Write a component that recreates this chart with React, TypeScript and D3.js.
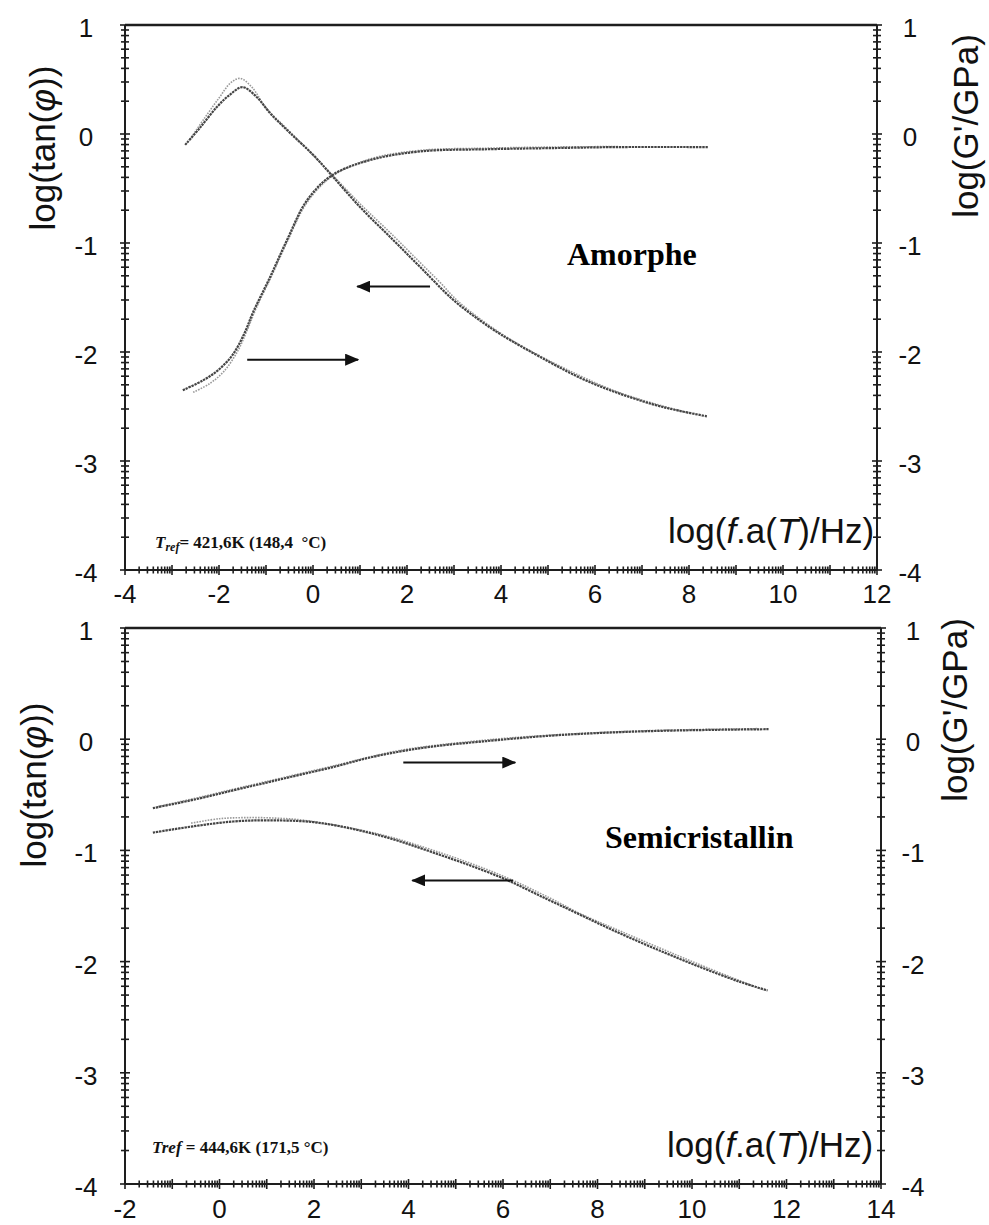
import React from 'react';
import * as d3 from 'd3';

// ---------- tick labels ----------
const yTickLabels = [1, 0, -1, -2, -3, -4];
const topXTickLabels = [-4, -2, 0, 2, 4, 6, 8, 10, 12];
const botXTickLabels = [-2, 0, 2, 4, 6, 8, 10, 12, 14];

// ---------- Amorphe (top panel) ----------
const amTanX_A = [-2.72, -2.40, -2.04, -1.77, -1.50, -1.20, -0.91, -0.49, 0.0, 0.40, 1.0, 1.70, 2.28, 2.98, 3.55, 4.00, 4.98, 5.70, 6.38, 7.23, 7.80, 8.38];
const amTanY_A = [-0.10, 0.06, 0.25, 0.36, 0.43, 0.34, 0.19, 0.01, -0.19, -0.38, -0.67, -0.97, -1.22, -1.52, -1.71, -1.84, -2.08, -2.24, -2.36, -2.48, -2.54, -2.59];
const amTanX_B = [-2.62, -2.30, -2.00, -1.75, -1.55, -1.30, -1.00, -0.49, 0.40, 1.0, 1.70, 2.28, 2.70, 3.10, 4.00, 4.98, 6.38, 7.23, 8.00];
const amTanY_B = [-0.05, 0.15, 0.33, 0.47, 0.51, 0.43, 0.24, 0.02, -0.37, -0.64, -0.93, -1.18, -1.36, -1.54, -1.83, -2.07, -2.35, -2.47, -2.56];

const amGX_A = [-2.77, -2.34, -2.00, -1.70, -1.45, -1.28, -0.91, -0.55, -0.13, 0.40, 1.21, 2.28, 3.70, 5.00, 6.50, 8.40];
const amGY_A = [-2.35, -2.26, -2.16, -2.02, -1.82, -1.64, -1.31, -0.97, -0.61, -0.38, -0.24, -0.16, -0.14, -0.13, -0.12, -0.12];
const amGX_B = [-2.55, -2.20, -1.90, -1.60, -1.40, -1.20, -0.91, -0.55, -0.13, 0.40, 1.21, 2.28, 3.70, 5.00, 6.50];
const amGY_B = [-2.37, -2.29, -2.18, -1.99, -1.80, -1.59, -1.33, -0.99, -0.63, -0.39, -0.23, -0.15, -0.13, -0.12, -0.115];

// ---------- Semicristallin (bottom panel) ----------
const scGX_A = [-1.41, -0.50, 0.29, 1.00, 1.50, 2.41, 3.13, 3.83, 4.53, 5.58, 6.94, 8.00, 9.06, 10.30, 11.62];
const scGY_A = [-0.62, -0.54, -0.46, -0.39, -0.34, -0.25, -0.17, -0.11, -0.065, -0.02, 0.03, 0.055, 0.072, 0.083, 0.09];
const scGX_B = [-1.30, -0.50, 0.29, 1.00, 2.41, 3.83, 5.58, 6.94, 9.06, 11.40];
const scGY_B = [-0.605, -0.53, -0.45, -0.38, -0.24, -0.10, -0.01, 0.035, 0.077, 0.095];

const scTanX_A = [-1.41, -0.50, 0.29, 1.00, 2.07, 3.34, 4.53, 5.94, 6.94, 7.64, 8.34, 9.20, 10.12, 11.00, 11.60];
const scTanY_A = [-0.84, -0.78, -0.74, -0.73, -0.75, -0.86, -1.02, -1.24, -1.44, -1.58, -1.72, -1.88, -2.04, -2.18, -2.26];
const scTanX_B = [-0.60, 0.00, 0.60, 1.20, 1.80, 3.34, 4.53, 5.94, 7.00, 7.64, 8.34, 10.12, 11.30];
const scTanY_B = [-0.755, -0.715, -0.705, -0.71, -0.73, -0.85, -1.00, -1.22, -1.43, -1.57, -1.70, -2.02, -2.22];

// ---------- arrows (data coords: x1 -> x2 at y) ----------
const amArrowsX1 = [2.49, -1.40];
const amArrowsX2 = [0.94, 0.96];
const amArrowsY = [-1.40, -2.07];
const scArrowsX1 = [3.89, 6.21];
const scArrowsX2 = [6.26, 4.08];
const scArrowsY = [-0.21, -1.27];

const SANS = "'Liberation Sans', Arial, Helvetica, sans-serif";
const SERIF = "'Liberation Serif', 'Times New Roman', Times, serif";
const INK = '#1e1e1e';

function zip(xs: number[], ys: number[]) {
  return xs.map((x, i) => [x, ys[i]] as [number, number]);
}

type PanelProps = {
  left: number; right: number; top: number; bottom: number;
  xDomain: [number, number];
  xTickLabels: number[];
  xLabelBaseline: number;
  rightLabelX: number;
  traces: { pts: [number, number][]; kind: 'A' | 'B' }[];
  arrows: { x1: number; x2: number; y: number }[];
  idPrefix: string;
};

function Panel(p: PanelProps) {
  const x = d3.scaleLinear().domain(p.xDomain).range([p.left, p.right]);
  const y = d3.scaleLinear().domain([-4, 1]).range([p.bottom, p.top]);
  const line = d3.line<[number, number]>()
    .x(d => x(d[0]))
    .y(d => y(d[1]))
    .curve(d3.curveCatmullRom.alpha(0.5));

  // log-style minor ticks: n + log10(k)
  const yTickVals: { v: number; major: boolean }[] = [];
  for (let n = -4; n < 1; n++) {
    for (let k = 1; k <= 9; k++) yTickVals.push({ v: n + Math.log10(k), major: k === 1 });
  }
  yTickVals.push({ v: 1, major: true });
  const xTickVals: { v: number; major: boolean }[] = [];
  for (let n = p.xDomain[0]; n < p.xDomain[1]; n++) {
    for (let k = 1; k <= 9; k++) xTickVals.push({ v: n + Math.log10(k), major: k === 1 });
  }
  xTickVals.push({ v: p.xDomain[1], major: true });

  return (
    <g>
      {/* curves */}
      {p.traces.map((t, i) => (
        <path key={i} d={line(t.pts) || ''} fill="none"
          stroke={t.kind === 'A' ? '#454545' : '#9a9a9a'}
          strokeWidth={t.kind === 'A' ? 2.2 : 1.6}
          strokeDasharray={t.kind === 'A' ? '2.4,0.8' : '1.6,1.2'} />
      ))}
      {/* arrows */}
      {p.arrows.map((a, i) => (
        <line key={i} x1={x(a.x1)} x2={x(a.x2)} y1={y(a.y)} y2={y(a.y)}
          stroke="#111" strokeWidth={2} markerEnd={`url(#${p.idPrefix}-arrow)`} />
      ))}
      {/* frame */}
      <line x1={p.left} x2={p.right} y1={p.top} y2={p.top} stroke={INK} strokeWidth={2.6} />
      <line x1={p.left} x2={p.right} y1={p.bottom} y2={p.bottom} stroke={INK} strokeWidth={2} />
      <line x1={p.left} x2={p.left} y1={p.top} y2={p.bottom} stroke={INK} strokeWidth={2} />
      <line x1={p.right} x2={p.right} y1={p.top} y2={p.bottom} stroke={INK} strokeWidth={2} />
      {/* y ticks left/right */}
      {yTickVals.map((t, i) => {
        const h = t.major ? 5 : 4;
        return (
          <g key={'y' + i}>
            <line x1={p.left - h} x2={p.left + h} y1={y(t.v)} y2={y(t.v)} stroke={INK} strokeWidth={1.6} />
            <line x1={p.right - h} x2={p.right + h} y1={y(t.v)} y2={y(t.v)} stroke={INK} strokeWidth={1.6} />
          </g>
        );
      })}
      {/* x ticks bottom */}
      {xTickVals.map((t, i) => {
        const h = t.major ? 5 : 3.5;
        return <line key={'x' + i} x1={x(t.v)} x2={x(t.v)} y1={p.bottom - h} y2={p.bottom + h} stroke={INK} strokeWidth={1.6} />;
      })}
      {/* y tick labels */}
      {yTickLabels.map(v => (
        <g key={'yl' + v}>
          <text x={86} y={y(v) + 12} textAnchor="middle" fontFamily={SANS} fontSize={26} fill="#111">{v}</text>
          <text x={p.rightLabelX} y={y(v) + 12} textAnchor="middle" fontFamily={SANS} fontSize={26} fill="#111">{v}</text>
        </g>
      ))}
      {/* x tick labels */}
      {p.xTickLabels.map(v => (
        <text key={'xl' + v} x={x(v)} y={p.xLabelBaseline} textAnchor="middle" fontFamily={SANS} fontSize={26} fill="#111">{v}</text>
      ))}
    </g>
  );
}

export default function App() {
  const topTraces = [
    { pts: zip(amTanX_B, amTanY_B), kind: 'B' as const },
    { pts: zip(amGX_B, amGY_B), kind: 'B' as const },
    { pts: zip(amTanX_A, amTanY_A), kind: 'A' as const },
    { pts: zip(amGX_A, amGY_A), kind: 'A' as const },
  ];
  const botTraces = [
    { pts: zip(scTanX_B, scTanY_B), kind: 'B' as const },
    { pts: zip(scGX_B, scGY_B), kind: 'B' as const },
    { pts: zip(scTanX_A, scTanY_A), kind: 'A' as const },
    { pts: zip(scGX_A, scGY_A), kind: 'A' as const },
  ];
  const topArrows = amArrowsX1.map((v, i) => ({ x1: v, x2: amArrowsX2[i], y: amArrowsY[i] }));
  const botArrows = scArrowsX1.map((v, i) => ({ x1: v, x2: scArrowsX2[i], y: scArrowsY[i] }));

  return (
    <svg width={989} height={1225} viewBox="0 0 989 1225"
      style={{ position: 'absolute', left: 0, top: 0, background: '#fff' }}>
      <defs>
        {['top', 'bot'].map(id => (
          <marker key={id} id={`${id}-arrow`} viewBox="0 0 14 12" refX={13} refY={6}
            markerWidth={14} markerHeight={12} markerUnits="userSpaceOnUse" orient="auto">
            <path d="M0,0 L14,6 L0,12 Z" fill="#111" />
          </marker>
        ))}
      </defs>
      <rect x={0} y={0} width={989} height={1225} fill="#fff" />

      <Panel left={125} right={877} top={25} bottom={570} xDomain={[-4, 12]}
        xTickLabels={topXTickLabels} xLabelBaseline={603} rightLabelX={910}
        traces={topTraces} arrows={topArrows} idPrefix="top" />
      <Panel left={125} right={881} top={628} bottom={1184} xDomain={[-2, 14]}
        xTickLabels={botXTickLabels} xLabelBaseline={1218} rightLabelX={913}
        traces={botTraces} arrows={botArrows} idPrefix="bot" />

      {/* axis titles */}
      <text transform="translate(55,148) rotate(-90)" textAnchor="middle" fontFamily={SANS} fontSize={35} fill="#111">
        log(tan(<tspan fontStyle="italic">φ</tspan>))
      </text>
      <text transform="translate(46,785) rotate(-90)" textAnchor="middle" fontFamily={SANS} fontSize={35} fill="#111">
        log(tan(<tspan fontStyle="italic">φ</tspan>))
      </text>
      <text transform="translate(978,126) rotate(-90)" textAnchor="middle" fontFamily={SANS} fontSize={35} fill="#111">
        log(G'/GPa)
      </text>
      <text transform="translate(967,710) rotate(-90)" textAnchor="middle" fontFamily={SANS} fontSize={35} fill="#111">
        log(G'/GPa)
      </text>
      <text x={668} y={543} fontFamily={SANS} fontSize={35} fill="#111">
        log(<tspan fontStyle="italic">f</tspan>.a(<tspan fontStyle="italic">T</tspan>)/Hz)
      </text>
      <text x={667} y={1157} fontFamily={SANS} fontSize={35} fill="#111">
        log(<tspan fontStyle="italic">f</tspan>.a(<tspan fontStyle="italic">T</tspan>)/Hz)
      </text>

      {/* panel labels */}
      <text x={567} y={265} fontFamily={SERIF} fontWeight="bold" fontSize={32} fill="#000">Amorphe</text>
      <text x={605} y={848} fontFamily={SERIF} fontWeight="bold" fontSize={32} fill="#000">Semicristallin</text>

      {/* reference temperatures */}
      <text x={155} y={548} fontFamily={SERIF} fontWeight="bold" fontSize={17} fill="#111" xmlSpace="preserve">
        <tspan fontStyle="italic">T</tspan><tspan fontStyle="italic" fontSize={12} dy={3}>ref</tspan><tspan dy={-3}>{'= 421,6K (148,4\u00a0 °C)'}</tspan>
      </text>
      <text x={152} y={1153} fontFamily={SERIF} fontWeight="bold" fontSize={17} fill="#111">
        <tspan fontStyle="italic">Tref</tspan> = 444,6K (171,5 °C)
      </text>
    </svg>
  );
}
